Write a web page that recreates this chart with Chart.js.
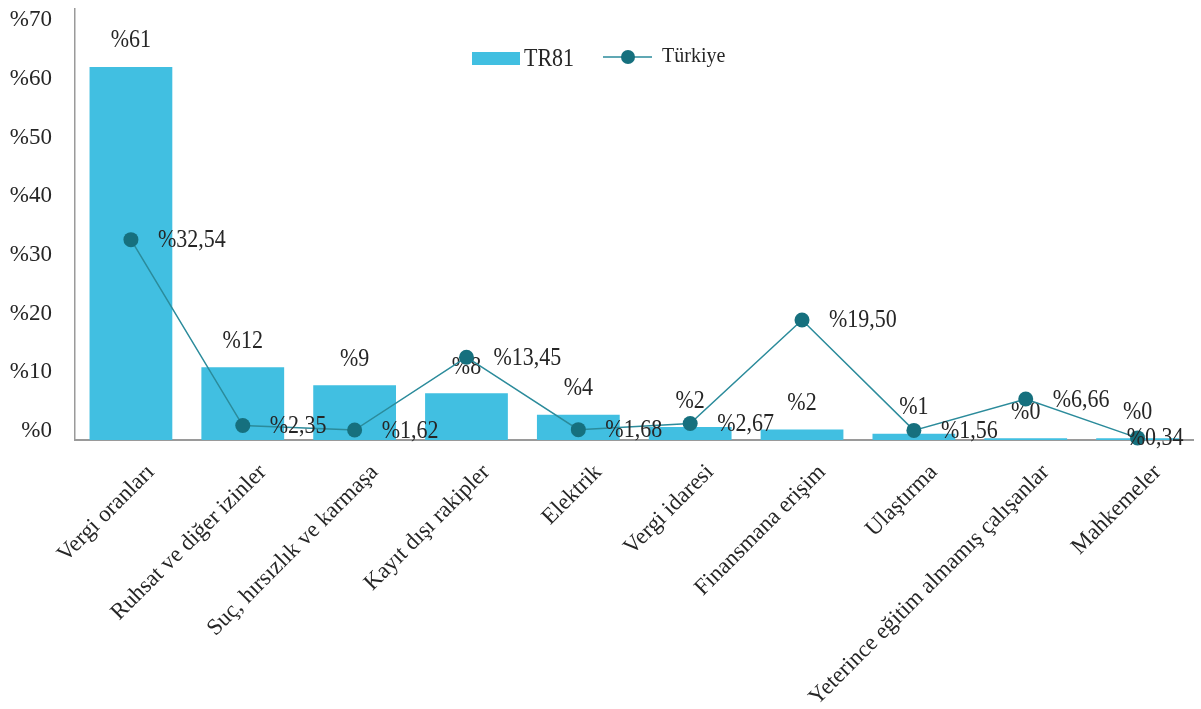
<!DOCTYPE html>
<html>
<head>
<meta charset="utf-8">
<script src="https://cdn.jsdelivr.net/npm/chart.js@4/dist/chart.umd.min.js"></script>
<style>
  html, body { margin: 0; padding: 0; background: #ffffff; }
  #wrap { width: 1201px; height: 709px; }
</style>
</head>
<body>
<div id="wrap"><canvas id="c" width="1201" height="709"></canvas></div>
<script>
// Categories (x axis)
const categories = [
  'Vergi oranları',
  'Ruhsat ve diğer izinler',
  'Suç, hırsızlık ve karmaşa',
  'Kayıt dışı rakipler',
  'Elektrik',
  'Vergi idaresi',
  'Finansmana erişim',
  'Ulaştırma',
  'Yeterince eğitim almamış çalışanlar',
  'Mahkemeler'
];
// TR81 shares (%), bars
const tr81Values = [60.6, 11.8, 8.9, 7.6, 4.1, 2.1, 1.7, 1.0, 0.3, 0.3];
// Türkiye shares (%), line
const turkiyeValues = [32.54, 2.35, 1.62, 13.45, 1.68, 2.67, 19.50, 1.56, 6.66, 0.34];
// Y axis tick values
const yTicks = [0, 10, 20, 30, 40, 50, 60, 70];

const seriesNames = ['TR81', 'Türkiye'];
const barColor = '#41bfe1';
const lineColor = '#2b8b9b';
const pointColor = '#16707e';
const axisColor = '#9a9a9a';
const textColor = '#262626';
const serif = '"Liberation Serif", "DejaVu Serif", serif';
const labelSize = 25;      // value label font size
const squeeze = 0.88;      // horizontal squeeze of value label glyphs

const fmtBar = v => '%' + Math.round(v);
const fmtLine = v => '%' + v.toFixed(2).replace('.', ',');

// Draws narrow serif text; align is 'left' or 'center'
function drawText(ctx, text, x, y, align) {
  ctx.save();
  ctx.font = labelSize + 'px ' + serif;
  ctx.fillStyle = textColor;
  ctx.textBaseline = 'middle';
  ctx.textAlign = align;
  ctx.translate(x, y);
  ctx.scale(squeeze, 1);
  ctx.fillText(text, 0, 0);
  ctx.restore();
}
function textWidth(ctx, text) {
  ctx.save();
  ctx.font = labelSize + 'px ' + serif;
  const w = ctx.measureText(text).width * squeeze;
  ctx.restore();
  return w;
}

// Value labels: bar labels are drawn right after the bars so the line sits above them
const valueLabels = {
  id: 'valueLabels',
  afterDatasetDraw(chart, args) {
    const ds = chart.data.datasets[args.index];
    if (ds.type !== 'bar') return;
    args.meta.data.forEach((el, i) => {
      drawText(chart.ctx, fmtBar(ds.data[i]), el.x, el.y - 26, 'center');
    });
  },
  afterDatasetsDraw(chart) {
    const ctx = chart.ctx;
    const limit = chart.chartArea.right - 10;
    chart.data.datasets.forEach((ds, di) => {
      if (ds.type !== 'line') return;
      chart.getDatasetMeta(di).data.forEach((el, i) => {
        const txt = fmtLine(ds.data[i]);
        const w = textWidth(ctx, txt);
        const x = Math.min(el.x + 27, limit - w);
        drawText(ctx, txt, x, el.y + 1, 'left');
      });
    });
  }
};

// Legend drawn at the top centre of the plot
const topLegend = {
  id: 'topLegend',
  afterDraw(chart) {
    const ctx = chart.ctx;
    ctx.save();
    ctx.fillStyle = barColor;
    ctx.fillRect(472, 52, 48, 13);
    drawText(ctx, seriesNames[0], 524, 59, 'left');

    ctx.strokeStyle = lineColor;
    ctx.lineWidth = 1.5;
    ctx.beginPath();
    ctx.moveTo(603, 57);
    ctx.lineTo(652, 57);
    ctx.stroke();
    ctx.fillStyle = pointColor;
    ctx.beginPath();
    ctx.arc(628, 57, 7, 0, Math.PI * 2);
    ctx.fill();

    ctx.fillStyle = textColor;
    ctx.font = '20px ' + serif;
    ctx.textBaseline = 'middle';
    ctx.textAlign = 'left';
    ctx.fillText(seriesNames[1], 662, 57);
    ctx.restore();
  }
};

new Chart(document.getElementById('c'), {
  data: {
    labels: categories,
    datasets: [
      {
        type: 'line',
        label: seriesNames[1],
        data: turkiyeValues,
        order: 0,
        borderColor: lineColor,
        borderWidth: 1.5,
        tension: 0,
        pointRadius: 7.5,
        pointBackgroundColor: pointColor,
        pointBorderColor: pointColor,
        pointBorderWidth: 0,
        clip: false
      },
      {
        type: 'bar',
        label: seriesNames[0],
        data: tr81Values,
        order: 1,
        backgroundColor: barColor,
        borderWidth: 0,
        categoryPercentage: 1,
        barPercentage: 0.74
      }
    ]
  },
  options: {
    responsive: false,
    animation: false,
    events: [],
    layout: { padding: { top: 9, right: 1, left: 0, bottom: 0 } },
    plugins: {
      legend: { display: false },
      title: { display: false },
      tooltip: { enabled: false }
    },
    scales: {
      x: {
        offset: true,
        grid: { display: false, drawTicks: false },
        border: { display: true, color: axisColor, width: 2 },
        ticks: {
          autoSkip: false,
          minRotation: 45,
          maxRotation: 45,
          padding: 19,
          labelOffset: 20,
          color: textColor,
          font: { family: serif, size: 23 }
        },
        afterFit(scale) {
          scale.height = 269;
          scale.paddingLeft = 0;
          scale.paddingRight = 0;
        }
      },
      // value axis for the marks
      y: {
        display: false,
        min: 0,
        max: 70
      },
      // percentage labels shown along the left edge
      yl: {
        position: 'left',
        min: -1.533,
        max: 71.88,
        grid: { display: false, drawTicks: false },
        border: { display: true, color: axisColor, width: 1.5 },
        afterBuildTicks(scale) {
          scale.ticks = yTicks.map(v => ({ value: v }));
        },
        ticks: {
          padding: 23,
          color: textColor,
          font: { family: serif, size: 23 },
          callback: v => '%' + v
        },
        afterFit(scale) {
          scale.width = 75;
          scale.paddingTop = 0;
          scale.paddingBottom = 0;
        }
      }
    }
  },
  plugins: [valueLabels, topLegend]
});
</script>
</body>
</html>
